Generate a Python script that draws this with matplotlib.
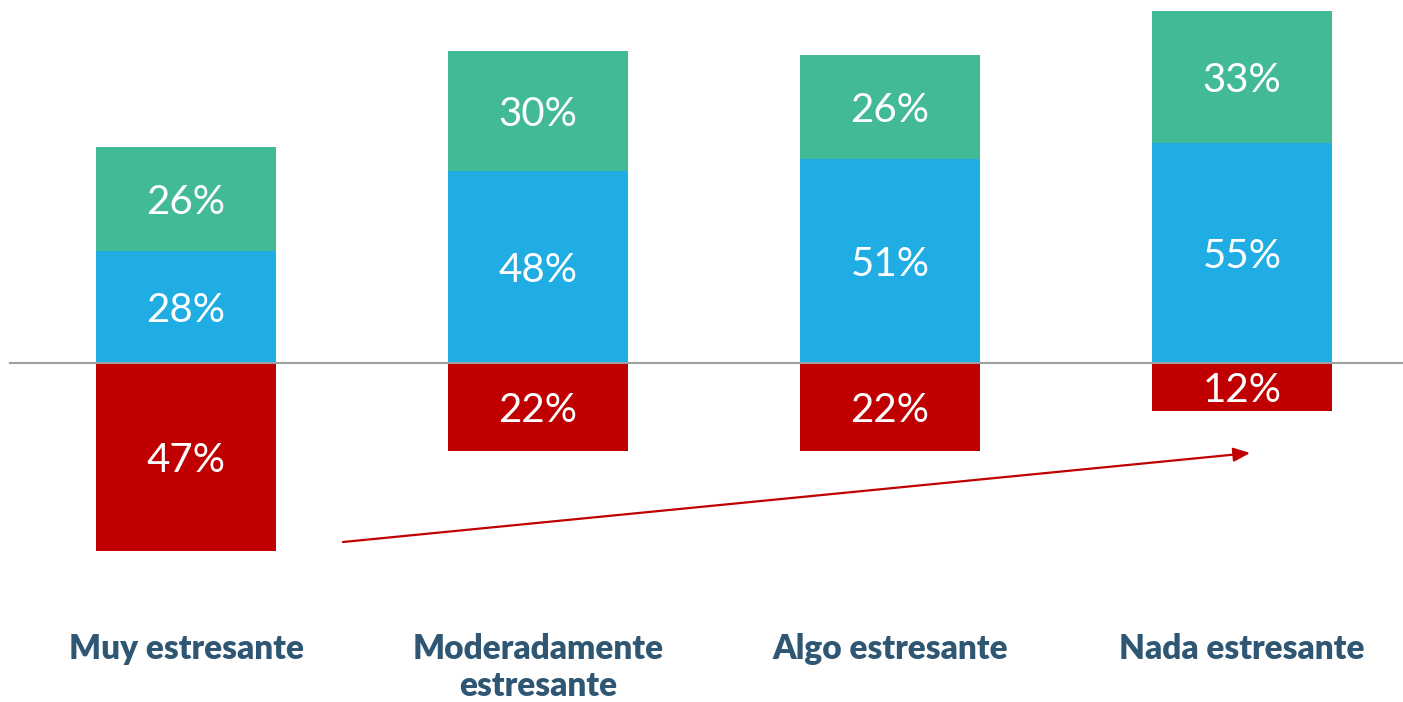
import matplotlib
matplotlib.use("Agg")
import matplotlib.pyplot as plt
import numpy as np

# data
categories = ["Muy estresante", "Moderadamente\nestresante", "Algo estresante", "Nada estresante"]
negative = [47, 22, 22, 12]   # drawn below the baseline
middle = [28, 48, 51, 55]
top = [26, 30, 26, 33]

green = "#43BA96"
blue = "#1FADE4"
red = "#C00000"
label_color = "#2F5773"

fig = plt.figure(figsize=(14.03, 7.02), dpi=100)
ax = fig.add_axes([0, 0, 1, 1])

x = np.arange(len(categories))
width = 0.511

ax.bar(x, [-v for v in negative], width, color=red, zorder=2)
ax.bar(x, middle, width, color=blue, zorder=2)
ax.bar(x, top, width, bottom=middle, color=green, zorder=2)

ax.axhline(0, xmin=10 / 1403, xmax=1, color="#A0A0A0", linewidth=1.5, zorder=3)

pct_font = dict(family="Lato", fontsize=29, color="white", ha="center",
                va="center_baseline", zorder=4)
for i in range(len(categories)):
    ax.text(x[i], -negative[i] / 2, f"{negative[i]}%", **pct_font)
    ax.text(x[i], middle[i] / 2, f"{middle[i]}%", **pct_font)
    ax.text(x[i], middle[i] + top[i] / 2, f"{top[i]}%", **pct_font)
    ax.text(x[i], -67.5, categories[i], family="Lato", fontweight="heavy", fontsize=24,
            color=label_color, ha="center", va="top", linespacing=1.2)

# trend arrow
ax.annotate("", xy=(3.023, -22.5), xytext=(0.446, -44.75),
            arrowprops=dict(arrowstyle="-|>,head_length=1.0,head_width=0.42",
                            color=red, linewidth=1.6, shrinkA=0, shrinkB=0))

ax.set_xlim(-186 / 352, (1403 - 186) / 352)
ax.set_ylim(-(702 - 363) / 4.0, 363 / 4.0)
ax.axis("off")

fig.savefig("out.png", dpi=100)
